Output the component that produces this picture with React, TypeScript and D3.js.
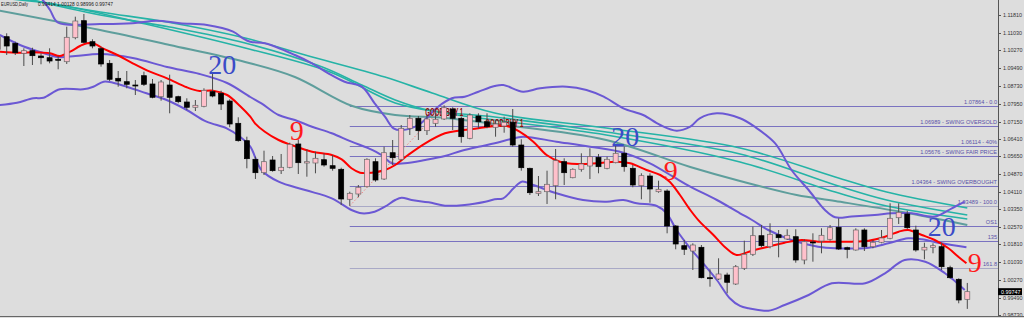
import React, { useEffect } from 'react';
import * as d3 from 'd3';

// ---------- DATA ----------
const FIRST_BAR = -1;
// [open, high, low, close] per daily bar, starting at bar index FIRST_BAR
const ohlc: [number, number, number, number][] = [
  [1.10315, 1.10938, 1.10197, 1.10864],
  [1.10864, 1.11012, 1.10066, 1.10458],
  [1.10576, 1.10646, 1.10066, 1.10166],
  [1.10140, 1.10358, 1.09586, 1.10254],
  [1.10254, 1.10384, 1.09630, 1.10036],
  [1.10022, 1.10140, 1.09661, 1.09948],
  [1.09948, 1.10358, 1.09704, 1.09804],
  [1.09879, 1.10022, 1.09443, 1.09861],
  [1.09774, 1.11300, 1.09674, 1.10838],
  [1.10820, 1.11736, 1.10751, 1.11548],
  [1.11562, 1.11854, 1.10576, 1.10620],
  [1.10646, 1.10751, 1.10358, 1.10458],
  [1.10341, 1.10428, 1.09556, 1.09674],
  [1.09704, 1.09848, 1.08932, 1.09007],
  [1.09050, 1.09368, 1.08684, 1.08932],
  [1.08902, 1.09368, 1.08614, 1.08789],
  [1.08758, 1.08976, 1.08322, 1.08728],
  [1.09164, 1.09338, 1.08714, 1.08789],
  [1.08802, 1.09020, 1.08178, 1.08222],
  [1.08248, 1.08976, 1.08074, 1.08889],
  [1.08758, 1.09207, 1.07524, 1.08222],
  [1.08248, 1.08292, 1.07960, 1.08030],
  [1.08017, 1.08178, 1.07668, 1.07786],
  [1.07786, 1.08104, 1.07624, 1.07873],
  [1.07829, 1.08614, 1.07786, 1.08527],
  [1.08466, 1.09238, 1.08222, 1.08278],
  [1.08396, 1.08510, 1.07668, 1.07930],
  [1.08060, 1.08135, 1.06914, 1.07058],
  [1.07088, 1.07350, 1.06286, 1.06330],
  [1.06330, 1.06504, 1.05126, 1.05545],
  [1.05519, 1.05632, 1.04660, 1.04934],
  [1.04934, 1.05894, 1.04834, 1.05414],
  [1.05488, 1.05662, 1.04978, 1.05022],
  [1.05022, 1.05750, 1.04878, 1.05170],
  [1.05170, 1.06242, 1.05126, 1.06173],
  [1.06186, 1.06391, 1.04878, 1.05370],
  [1.05357, 1.05955, 1.04760, 1.05414],
  [1.05357, 1.05850, 1.04908, 1.05562],
  [1.05501, 1.05780, 1.05196, 1.05270],
  [1.05240, 1.05706, 1.05022, 1.05126],
  [1.05083, 1.05152, 1.03526, 1.03788],
  [1.03775, 1.04106, 1.03489, 1.04036],
  [1.04006, 1.04398, 1.03862, 1.04298],
  [1.04324, 1.05562, 1.04298, 1.05519],
  [1.05414, 1.05562, 1.04542, 1.04616],
  [1.04660, 1.06068, 1.04616, 1.05806],
  [1.05806, 1.06360, 1.05270, 1.05588],
  [1.05519, 1.07014, 1.05458, 1.06870],
  [1.06870, 1.07450, 1.06578, 1.07306],
  [1.07306, 1.07406, 1.06360, 1.06766],
  [1.06766, 1.07450, 1.06578, 1.07276],
  [1.07088, 1.07524, 1.06940, 1.07263],
  [1.07276, 1.07864, 1.07232, 1.07768],
  [1.07712, 1.07786, 1.06796, 1.07306],
  [1.07306, 1.07376, 1.06242, 1.06504],
  [1.06434, 1.07524, 1.06391, 1.07450],
  [1.07406, 1.07524, 1.06870, 1.07158],
  [1.07158, 1.07524, 1.06870, 1.06940],
  [1.06914, 1.07232, 1.06504, 1.07058],
  [1.06970, 1.07376, 1.06678, 1.07132],
  [1.07132, 1.07712, 1.06068, 1.06142],
  [1.06142, 1.06391, 1.05022, 1.05152],
  [1.05126, 1.05152, 1.03962, 1.04062],
  [1.04036, 1.04790, 1.03918, 1.04106],
  [1.04106, 1.05022, 1.03570, 1.04429],
  [1.04368, 1.05968, 1.03775, 1.05458],
  [1.05414, 1.05562, 1.04398, 1.04934],
  [1.04716, 1.05126, 1.04690, 1.05083],
  [1.05083, 1.05780, 1.04978, 1.05314],
  [1.05226, 1.05998, 1.04660, 1.05632],
  [1.05606, 1.05750, 1.04908, 1.05196],
  [1.05126, 1.05632, 1.05083, 1.05519],
  [1.05370, 1.06142, 1.05344, 1.05780],
  [1.05780, 1.06068, 1.04978, 1.05196],
  [1.05126, 1.05270, 1.04298, 1.04398],
  [1.04368, 1.04908, 1.03775, 1.04804],
  [1.04790, 1.04908, 1.03626, 1.04224],
  [1.04106, 1.04586, 1.04062, 1.04211],
  [1.04136, 1.04211, 1.02292, 1.02610],
  [1.02610, 1.02654, 1.01595, 1.01826],
  [1.01752, 1.02000, 1.01346, 1.01595],
  [1.01520, 1.01856, 1.00692, 1.01782],
  [1.01682, 1.01782, 1.00330, 1.00356],
  [1.00356, 1.00723, 0.99964, 1.00340],
  [1.00300, 1.01202, 1.00256, 1.00518],
  [1.00474, 1.00574, 0.99676, 1.00156],
  [1.00082, 1.00910, 1.00038, 1.00836],
  [1.00766, 1.01970, 1.00692, 1.01377],
  [1.01377, 1.02580, 1.01302, 1.02188],
  [1.02188, 1.02654, 1.01682, 1.01752],
  [1.01708, 1.02728, 1.01638, 1.02249],
  [1.02231, 1.02436, 1.01246, 1.02100],
  [1.02044, 1.02467, 1.02000, 1.02205],
  [1.02144, 1.02467, 1.01010, 1.01128],
  [1.01128, 1.02031, 1.00941, 1.01926],
  [1.01913, 1.02292, 1.01054, 1.01900],
  [1.01956, 1.02510, 1.01420, 1.02205],
  [1.02031, 1.02654, 1.01970, 1.02536],
  [1.02554, 1.02946, 1.01564, 1.01608],
  [1.01664, 1.01708, 1.01202, 1.01595],
  [1.01564, 1.02510, 1.01534, 1.02436],
  [1.02436, 1.02510, 1.01520, 1.01708],
  [1.01708, 1.02000, 1.01638, 1.01900],
  [1.01900, 1.02436, 1.01856, 1.02087],
  [1.02074, 1.03600, 1.02031, 1.02946],
  [1.02972, 1.03600, 1.02698, 1.03208],
  [1.03134, 1.03278, 1.02480, 1.02536],
  [1.02436, 1.02624, 1.01490, 1.01564],
  [1.01564, 1.01882, 1.01159, 1.01682],
  [1.01682, 1.01856, 1.01420, 1.01752],
  [1.01708, 1.01882, 1.00692, 1.00836],
  [1.00792, 1.00880, 1.00313, 1.00356],
  [1.00287, 1.00330, 0.99240, 0.99384],
  [0.99414, 1.00128, 0.98996, 0.99747],
];

// indicator lines: [bar index, price]
const ema9: [number, number][] = [
  [-0.8, 1.10210], [1.55, 1.10166], [3.1, 1.10184], [5.05, 1.10140], [6.2, 1.10022], [7.4, 1.10210],
  [8.55, 1.10458], [9.36, 1.10576], [10.3, 1.10546], [11.2, 1.10358], [12.9, 1.10066], [14.7, 1.09704],
  [16.7, 1.09338], [18.7, 1.09050], [21.0, 1.08658], [22.5, 1.08496], [24.05, 1.08510], [25.7, 1.08322],
  [27.2, 1.07842], [28.4, 1.07376], [28.95, 1.07088], [30.1, 1.06722], [31.7, 1.06360], [33.2, 1.06142],
  [35.6, 1.05850], [37.9, 1.05706], [39.06, 1.05519], [40.2, 1.05126], [41.2, 1.04934], [42.55, 1.04934],
  [44.1, 1.05052], [45.3, 1.05270], [46.8, 1.05706], [48.8, 1.06216], [51.1, 1.06652], [52.65, 1.06766],
  [55.0, 1.06870], [56.9, 1.06970], [58.3, 1.06970], [59.8, 1.06722], [61.4, 1.06286], [62.95, 1.05706],
  [64.5, 1.05414], [66.5, 1.05314], [68.8, 1.05344], [71.1, 1.05414], [72.7, 1.05344], [74.6, 1.05052],
  [76.2, 1.04834], [77.3, 1.04542], [78.5, 1.03962], [79.7, 1.03308], [80.8, 1.02798], [82.4, 1.02218],
  [83.9, 1.01638], [85.1, 1.01346], [86.9, 1.01534], [88.8, 1.01708], [90.7, 1.01882], [92.7, 1.02000],
  [94.6, 1.01926], [96.6, 1.01926], [98.5, 1.01926], [100.5, 1.01970], [102.4, 1.02144], [104.0, 1.02362],
  [105.1, 1.02436], [106.7, 1.02218], [108.2, 1.02000], [109.8, 1.01638], [110.95, 1.01272], [111.9, 1.00984],
];

const bbMiddle: [number, number][] = [
  [-0.8, 1.10938], [1.55, 1.10502], [3.9, 1.10197], [6.0, 1.09979], [8.0, 1.10022], [10.9, 1.10110],
  [14.7, 1.09935], [18.7, 1.09543], [22.5, 1.09238], [25.7, 1.08845], [28.4, 1.08235], [29.7, 1.07960],
  [31.7, 1.07450], [33.6, 1.07232], [35.6, 1.06940], [37.9, 1.06652], [40.2, 1.06286], [42.2, 1.05998],
  [43.7, 1.05706], [44.9, 1.05344], [46.4, 1.05344], [48.8, 1.05488], [51.1, 1.05662], [53.05, 1.05894],
  [55.0, 1.06068], [56.9, 1.06216], [58.7, 1.06391], [60.2, 1.06504], [64.1, 1.06286], [68.0, 1.06068],
  [71.9, 1.05806], [75.0, 1.05344], [77.7, 1.04760], [79.7, 1.04324], [82.8, 1.03744], [85.5, 1.03164],
  [86.9, 1.02872], [88.8, 1.02436], [91.5, 1.02000], [94.6, 1.01708], [96.6, 1.01638], [100.5, 1.01664],
  [102.8, 1.01856], [105.1, 1.02074], [106.7, 1.02031], [109.0, 1.01856], [111.9, 1.01682],
];

const bbUpper: [number, number][] = [
  [2.7, 1.12987], [4.2, 1.12464], [5.05, 1.12028], [6.0, 1.11474], [10.9, 1.11418], [14.7, 1.11448],
  [17.5, 1.11562], [20.2, 1.11448], [23.35, 1.11374], [26.4, 1.11082], [27.55, 1.10794], [28.4, 1.10646],
  [30.1, 1.10576], [33.6, 1.10066], [35.6, 1.09704], [37.5, 1.09268], [39.4, 1.08902], [41.4, 1.08684],
  [42.9, 1.07960], [44.1, 1.07376], [45.1, 1.06870], [46.05, 1.06796], [48.0, 1.07014], [50.3, 1.07812],
  [51.9, 1.08178], [53.4, 1.08248], [55.0, 1.08466], [56.9, 1.08714], [57.9, 1.08758], [60.2, 1.08466],
  [62.2, 1.08614], [65.3, 1.08684], [67.6, 1.08540], [69.6, 1.08248], [71.9, 1.07742], [74.2, 1.07450],
  [76.2, 1.07014], [78.1, 1.06766], [79.7, 1.06940], [80.8, 1.07306], [82.8, 1.07524], [85.5, 1.07306],
  [87.2, 1.06940], [89.6, 1.06216], [91.5, 1.05052], [93.5, 1.04180], [95.4, 1.03312], [96.6, 1.02990],
  [98.5, 1.03020], [101.2, 1.03090], [103.2, 1.03164], [105.5, 1.03164], [108.2, 1.03020], [110.2, 1.03380],
  [111.7, 1.03670],
];

const bbLower: [number, number][] = [
  [-0.8, 1.07886], [1.2, 1.07986], [3.1, 1.08178], [4.3, 1.08204], [6.2, 1.08570], [8.9, 1.08570],
  [10.1, 1.08684], [11.3, 1.08902], [12.4, 1.08858], [14.0, 1.08684], [16.3, 1.08396], [18.65, 1.08104],
  [21.0, 1.07668], [23.3, 1.07158], [25.65, 1.06870], [27.2, 1.06504], [28.4, 1.06068], [29.7, 1.05052],
  [31.7, 1.04542], [34.8, 1.04180], [37.9, 1.03818], [40.2, 1.03308], [41.4, 1.03164], [42.9, 1.03234],
  [44.1, 1.03452], [45.3, 1.03744], [46.05, 1.03844], [47.2, 1.03744], [49.2, 1.03644], [51.1, 1.03496],
  [53.4, 1.03526], [55.8, 1.03670], [56.9, 1.03775], [57.9, 1.03818], [59.1, 1.04254], [60.05, 1.04542],
  [61.4, 1.04398], [64.1, 1.04036], [67.2, 1.03744], [69.95, 1.03670], [71.9, 1.03744], [73.45, 1.03600],
  [75.8, 1.03482], [76.95, 1.03164], [78.1, 1.02436], [79.7, 1.01638], [81.2, 1.00984], [82.8, 1.00256],
  [84.3, 0.99459], [85.5, 0.99124], [86.5, 0.99022], [88.8, 0.98917], [90.7, 0.99166], [93.5, 0.99602],
  [96.2, 1.00112], [100.1, 1.00112], [102.4, 1.00548], [104.7, 1.01128], [107.1, 1.01054], [109.4, 1.00548],
  [111.7, 0.99824],
];

const maFastTeal: [number, number][] = [
  [2.7, 1.12464], [10.9, 1.11941], [18.7, 1.11505], [27.8, 1.10807], [34.8, 1.10066], [44.1, 1.09107],
  [49.6, 1.08409], [56.9, 1.07537], [69.9, 1.06883], [85.5, 1.06011], [96.6, 1.04747], [102.6, 1.04092],
  [112, 1.03395],
];
const maMidTeal: [number, number][] = [
  [0.4, 1.12682], [10.9, 1.11810], [19.0, 1.11287], [27.8, 1.10589], [36.8, 1.09543], [41.4, 1.08758],
  [45.3, 1.08104], [49.1, 1.07668], [56.9, 1.07363], [69.9, 1.06709], [85.5, 1.05750], [96.6, 1.04398],
  [102.6, 1.03744], [112, 1.03090],
];
const maSlowTeal: [number, number][] = [
  [-0.8, 1.12551], [6.2, 1.12246], [16.7, 1.11374], [27.8, 1.10371], [37.7, 1.09325], [45.3, 1.07973],
  [51.1, 1.07537], [56.9, 1.07232], [69.9, 1.06578], [85.5, 1.05401], [96.6, 1.04092], [102.6, 1.03482],
  [112, 1.02916],
];
const maLongCadet: [number, number][] = [
  [-0.8, 1.11998], [10.9, 1.11156], [19.0, 1.10502], [27.8, 1.09761], [33.6, 1.09107], [40.3, 1.07842],
  [45.3, 1.07450], [51.1, 1.07319], [56.9, 1.07058], [69.9, 1.06360], [79.7, 1.05183], [85.5, 1.04572],
  [92.1, 1.03962], [96.6, 1.03700], [104.4, 1.03221], [112, 1.02654],
];

const priceTicks = [
  1.11810, 1.11030, 1.10270, 1.09490, 1.08730, 1.07950, 1.07150, 1.06410, 1.05650,
  1.04870, 1.04110, 1.03350, 1.02570, 1.01810, 1.01030, 1.00270, 0.99490, 0.98730,
];

const fibLevels = [1.07864, 1.06989, 1.06114, 1.05676, 1.04364, 1.03489, 1.02614, 1.01958, 1.00785];
const fibLabels = [
  '1.07864 - 0.0', '1.06989 - SWING OVERSOLD', '1.06114 - 40%', '1.05676 - SWING FAIR PRICE',
  '1.04364 - SWING OVERBOUGHT', '1.03489 - 100.0', 'OS1', '135', '161.8',
];
const fibFaint = [false, false, false, false, false, true, false, false, true];
const fibStartBar = 40;
const swingFrom: [number, number] = [40, 1.03489];
const swingTo: [number, number] = [51, 1.07864];

const signalBars = [48.8, 55.8];
const signalPrices = [1.07406, 1.06927];
const signalText = 'GOOD BUY 1';

const periodTexts = ['20', '20', '20', '9', '9', '9'];
const periodBars = [23.5, 70.5, 107.4, 33.0, 76.6, 112.05];
const periodPrices = [1.09238, 1.06098, 1.02174, 1.06360, 1.04616, 1.00605];

const symbolTitle = 'EURUSD,Daily';
const quoteText = '0.99414 1.00128 0.98996 0.99747';
const lastPrice = 0.99747;

// ---------- CHART ----------
const W = 1024;
const H = 318;
const PLOT_RIGHT = 998;

export default function App() {
  useEffect(() => {
    document.body.style.margin = '0';
  }, []);

  const x = d3.scaleLinear().domain([0, 112]).range([6.7, 967.3]);
  const y = d3.scaleLinear().domain([0.9873, 1.1181]).range([315, 15]);

  const line = d3
    .line<[number, number]>()
    .x((d) => x(d[0]))
    .y((d) => y(d[1]))
    .curve(d3.curveCatmullRom.alpha(0.5));

  const bodyW = 5;

  return (
    <svg
      width={W}
      height={H}
      viewBox={`0 0 ${W} ${H}`}
      style={{ position: 'absolute', left: 0, top: 0, display: 'block' }}
      fontFamily="'Liberation Sans', Arial, sans-serif"
    >
      <defs>
        <clipPath id="plot">
          <rect x={0} y={0} width={PLOT_RIGHT} height={317} />
        </clipPath>
      </defs>
      <rect x={0} y={0} width={W} height={H} fill="#dddddd" />

      <g clipPath="url(#plot)">
        {/* fib levels */}
        {fibLevels.map((lv, k) => (
          <line
            key={'fib' + k}
            x1={x(fibStartBar)}
            x2={PLOT_RIGHT}
            y1={Math.round(y(lv)) + 0.5}
            y2={Math.round(y(lv)) + 0.5}
            stroke={fibFaint[k] ? '#a9a9c6' : '#7a72c0'}
            strokeWidth={1}
          />
        ))}
        {fibLevels.map((lv, k) => (
          <text
            key={'fibt' + k}
            x={PLOT_RIGHT - 1}
            y={y(lv) - 1.5}
            textAnchor="end"
            fontSize={5.6}
            fill="#5a52a8"
          >
            {fibLabels[k]}
          </text>
        ))}

        {/* moving averages */}
        <path d={line(maLongCadet) || ''} fill="none" stroke="#5e9e9c" strokeWidth={2} />
        <path d={line(maSlowTeal) || ''} fill="none" stroke="#25b3a6" strokeWidth={1.6} />
        <path d={line(maMidTeal) || ''} fill="none" stroke="#25b3a6" strokeWidth={1.6} />
        <path d={line(maFastTeal) || ''} fill="none" stroke="#25b3a6" strokeWidth={1.6} />

        {/* bollinger bands */}
        <path d={line(bbUpper) || ''} fill="none" stroke="#6b58d4" strokeWidth={2} />
        <path d={line(bbMiddle) || ''} fill="none" stroke="#6b58d4" strokeWidth={2} />
        <path d={line(bbLower) || ''} fill="none" stroke="#6b58d4" strokeWidth={2} />

        {/* swing line */}
        <line
          x1={x(swingFrom[0])}
          y1={y(swingFrom[1])}
          x2={x(swingTo[0])}
          y2={y(swingTo[1])}
          stroke="#f08080"
          strokeWidth={1}
          strokeDasharray="1.5 2"
        />

        {/* signal labels */}
        {signalBars.map((b, k) => (
          <text
            key={'sig' + k}
            x={x(b)}
            y={y(signalPrices[k])}
            fontSize={10.5}
            fontWeight="bold"
            fill="#8e0b0b"
            textLength={38}
            lengthAdjust="spacingAndGlyphs"
          >
            {signalText}
          </text>
        ))}

        {/* ema 9 */}
        <path d={line(ema9) || ''} fill="none" stroke="#ff0000" strokeWidth={2} />

        {/* candles */}
        {ohlc.map((c, k) => {
          const i = FIRST_BAR + k;
          const [o, h, l, cl] = c;
          const cx = x(i);
          const bull = cl >= o;
          const top = y(Math.max(o, cl));
          const bot = y(Math.min(o, cl));
          const bh = Math.max(1, bot - top);
          return (
            <g key={'c' + k}>
              <line x1={cx} x2={cx} y1={y(h)} y2={y(l)} stroke="#4a4a4a" strokeWidth={1} />
              <rect
                x={cx - bodyW / 2}
                y={top}
                width={bodyW}
                height={bh}
                fill={bull ? '#ffc0cb' : '#000000'}
                stroke={bull ? '#6a6a6a' : '#000000'}
                strokeWidth={0.7}
              />
            </g>
          );
        })}

        {/* period labels */}
        {periodTexts.map((t, k) => (
          <text
            key={'pt' + k}
            x={x(periodBars[k])}
            y={y(periodPrices[k])}
            fontFamily="'Liberation Serif', 'DejaVu Serif', serif"
            fontSize={28}
            fill={t === '9' ? '#ff1a1a' : '#3b4bc8'}
          >
            {t}
          </text>
        ))}
      </g>

      {/* title */}
      <text x={1} y={5.5} fontSize={5.6} fill="#202020" textLength={27} lengthAdjust="spacingAndGlyphs">
        {symbolTitle}
      </text>
      <text x={38} y={5.5} fontSize={5.6} fill="#202020" textLength={75} lengthAdjust="spacingAndGlyphs">
        {quoteText}
      </text>

      {/* right axis */}
      <line x1={PLOT_RIGHT + 0.5} x2={PLOT_RIGHT + 0.5} y1={0} y2={317} stroke="#555" strokeWidth={1} />
      {priceTicks.map((p, k) => (
        <g key={'tk' + k}>
          <line x1={PLOT_RIGHT} x2={PLOT_RIGHT + 3} y1={Math.round(y(p)) + 0.5} y2={Math.round(y(p)) + 0.5} stroke="#555" />
          <text x={1003} y={y(p) + 2} fontSize={5.4} fill="#333">
            {p.toFixed(5)}
          </text>
        </g>
      ))}
      <rect x={PLOT_RIGHT} y={y(lastPrice) - 3.5} width={24} height={7} fill="#000" />
      <text x={1001} y={y(lastPrice) + 2} fontSize={5.4} fill="#fff">
        {lastPrice.toFixed(5)}
      </text>

      {/* bottom border */}
      <line x1={0} x2={W} y1={316.5} y2={316.5} stroke="#666" strokeWidth={1} />
    </svg>
  );
}
